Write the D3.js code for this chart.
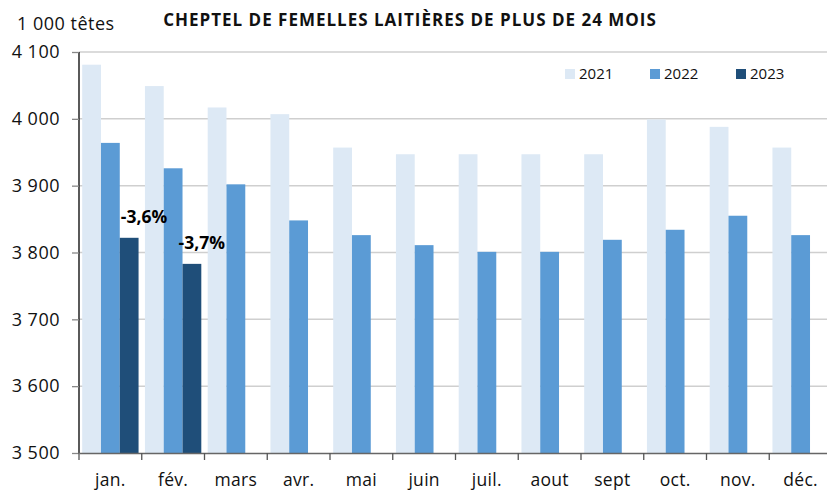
<!DOCTYPE html>
<html><head><meta charset="utf-8">
<script src="https://cdn.jsdelivr.net/npm/d3@7"></script>
<style>body{margin:0;background:#fff;}svg{display:block;font-family:"Open Sans",sans-serif;}</style>
</head><body><div id="chart"></div>
<script>
const months = ["jan.","fév.","mars","avr.","mai","juin","juil.","aout","sept","oct.","nov.","déc."];
const series = ["2021","2022","2023"];
const v2021 = [4081,4049,4017,4007,3957,3947,3947,3947,3947,3999,3988,3957];
const v2022 = [3964,3926,3902,3848,3826,3811,3801,3801,3819,3834,3855,3826];
const v2023 = [3822,3783,null,null,null,null,null,null,null,null,null,null];
const labels2023 = ["-3,6%","-3,7%"];
const yTicks = [3500,3600,3700,3800,3900,4000,4100];
const colors = {"2021":"#dde9f5","2022":"#5b9bd5","2023":"#1f4e79"};

const W=827,H=491;
const m={left:79,right:-5,top:52,bottom:38};
const svg=d3.select("#chart").append("svg").attr("width",W).attr("height",H);
const x=d3.scaleBand().domain(months).range([m.left,W-m.right]).paddingInner(0).paddingOuter(0);
const xs=d3.scaleBand().domain(series).range([0,x.bandwidth()]).paddingOuter(0.17).paddingInner(0);
const y=d3.scaleLinear().domain([3500,4100]).range([H-m.bottom,m.top]);
const data={"2021":v2021,"2022":v2022,"2023":v2023};
const fmt=d=>d3.format(",")(d).replace(","," ");

// gridlines
svg.append("g").selectAll("line").data(yTicks.slice(1)).join("line")
 .attr("x1",m.left).attr("x2",W).attr("y1",d=>y(d)).attr("y2",d=>y(d))
 .attr("stroke","#cfcfcf").attr("stroke-width",1.5);

// bars
series.forEach(s=>{
  svg.append("g").selectAll("rect").data(months.map((mo,i)=>({mo,v:data[s][i]})).filter(d=>d.v!=null)).join("rect")
   .attr("x",d=>x(d.mo)+xs(s)).attr("width",xs.bandwidth())
   .attr("y",d=>y(d.v)).attr("height",d=>y(3500)-y(d.v)).attr("fill",colors[s]);
});

// annotations
svg.append("g").selectAll("text").data(labels2023).join("text")
 .attr("x",(d,i)=>x(months[i])+xs("2023")+(i===0?1:-4))
 .attr("y",(d,i)=>y(v2023[i])-15)
 .attr("font-size",17.5).attr("font-weight","bold").attr("fill","#000").text(d=>d);

// y axis
const ya=svg.append("g").attr("transform",`translate(${m.left},0)`)
 .call(d3.axisLeft(y).tickValues(yTicks).tickFormat(fmt).tickSize(7).tickPadding(12));
ya.select(".domain").attr("stroke","#000").attr("stroke-width",1.3).attr("d",`M0,${m.top}V${H-m.bottom}`);
ya.selectAll(".tick line").attr("stroke","#888").attr("stroke-width",1.3);
ya.selectAll("text").attr("font-size",18).attr("letter-spacing",0.5).attr("fill","#111").attr("font-family","Open Sans");

// x axis
const xa=svg.append("g").attr("transform",`translate(0,${H-m.bottom})`)
 .call(d3.axisBottom(x).tickSize(0).tickPadding(21));
xa.select(".domain").attr("stroke","#666").attr("stroke-width",1.5);
xa.selectAll("text").attr("font-size",17.5).attr("letter-spacing",0.3).attr("fill","#111").attr("font-family","Open Sans");
svg.append("g").selectAll("line").data(months).join("line")
 .attr("x1",d=>x(d)).attr("x2",d=>x(d)).attr("y1",H-m.bottom).attr("y2",H-m.bottom+7)
 .attr("stroke","#555").attr("stroke-width",1.3);

// unit label
svg.append("text").attr("x",17).attr("y",30).attr("font-size",18).attr("letter-spacing",0.5).attr("fill","#111").text("1 000 têtes");
// title
svg.append("text").attr("x",410).attr("y",26).attr("text-anchor","middle").attr("font-size",17)
 .attr("font-weight","bold").attr("fill","#111").attr("letter-spacing",1)
 .text("CHEPTEL DE FEMELLES LAITIÈRES DE PLUS DE 24 MOIS");

// legend
const lx=[565,650,736];
const lg=svg.append("g").selectAll("g").data(series).join("g").attr("transform",(d,i)=>`translate(${lx[i]},69)`);
lg.append("rect").attr("width",10).attr("height",10).attr("fill",d=>colors[d]);
lg.append("text").attr("x",14).attr("y",10).attr("font-size",15).attr("fill","#111").text(d=>d);
</script></body></html>
